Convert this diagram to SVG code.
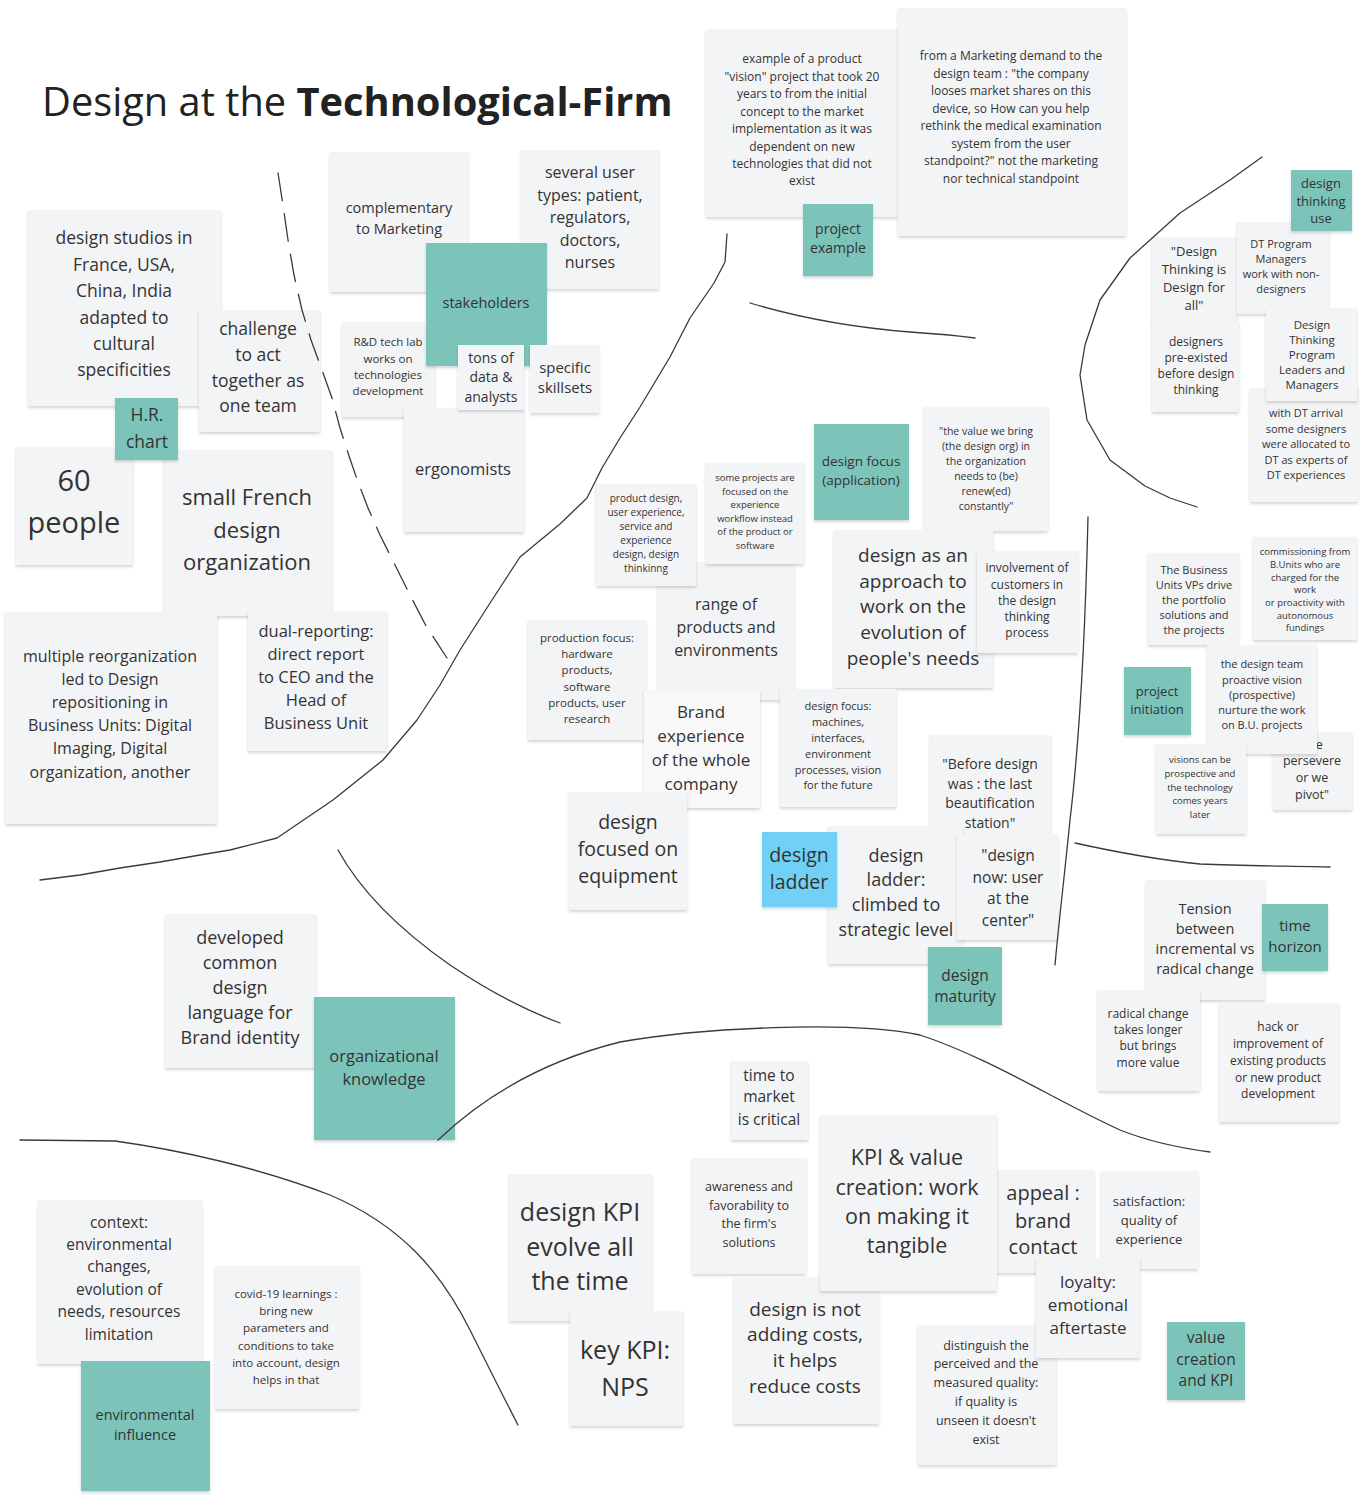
<svg xmlns="http://www.w3.org/2000/svg" width="1367" height="1495" viewBox="0 0 1367 1495">
<defs>
<filter id="sh" x="-10%" y="-10%" width="120%" height="125%">
<feDropShadow dx="0" dy="2" stdDeviation="1.6" flood-color="#000" flood-opacity="0.16"/>
</filter>
<style>
.n{fill:#f3f4f6;filter:url(#sh)}
.w{fill:#f8f8f9;filter:url(#sh)}
.t{fill:#7cc4ba;filter:url(#sh)}
.b{fill:#6fd0f5;filter:url(#sh)}
text{font-family:"Open Sans","Noto Sans","Liberation Sans",sans-serif;fill:#333;text-anchor:middle}
.ttl{text-anchor:start;fill:#222}
.ln{fill:none;stroke:#3a3a3a;stroke-width:1.3;stroke-linecap:round;stroke-linejoin:round}
.dash{stroke-dasharray:28 13}
</style>
</defs>
<rect width="1367" height="1495" fill="#ffffff"/>
<text class="ttl" x="42" y="116" font-size="39.8">Design at the <tspan font-weight="700">Technological-Firm</tspan></text>

<g id="n-vision"><rect class="n" x="706" y="29" width="192" height="188"/><text font-size="12"><tspan x="802" y="63">example of a product</tspan><tspan x="802" y="80.5">"vision" project that took 20</tspan><tspan x="802" y="98">years to from the initial</tspan><tspan x="802" y="115.5">concept to the market</tspan><tspan x="802" y="133">implementation as it was</tspan><tspan x="802" y="150.5">dependent on new</tspan><tspan x="802" y="168">technologies that did not</tspan><tspan x="802" y="185">exist</tspan></text></g>
<g id="n-project-example"><rect class="t" x="803" y="204" width="70" height="72"/><text font-size="14"><tspan x="838" y="234">project</tspan><tspan x="838" y="253">example</tspan></text></g>
<g id="n-marketing"><rect class="n" x="898" y="8" width="228" height="228"/><text font-size="12"><tspan x="1011" y="60">from a Marketing demand to the</tspan><tspan x="1011" y="77.5">design team : "the company</tspan><tspan x="1011" y="95">looses market shares on this</tspan><tspan x="1011" y="112.5">device, so How can you help</tspan><tspan x="1011" y="130">rethink the medical examination</tspan><tspan x="1011" y="147.5">system from the user</tspan><tspan x="1011" y="165">standpoint?" not the marketing</tspan><tspan x="1011" y="182.5">nor technical standpoint</tspan></text></g>

<g id="n-studios"><rect class="n" x="28" y="210" width="193" height="196"/><text font-size="17.5"><tspan x="124" y="244">design studios in</tspan><tspan x="124" y="270.5">France, USA,</tspan><tspan x="124" y="297">China, India</tspan><tspan x="124" y="323.5">adapted to</tspan><tspan x="124" y="350">cultural</tspan><tspan x="124" y="376">specificities</tspan></text></g>
<g id="n-challenge"><rect class="n" x="199" y="310" width="121" height="122"/><text font-size="17.5"><tspan x="258" y="335">challenge</tspan><tspan x="258" y="361">to act</tspan><tspan x="258" y="387">together as</tspan><tspan x="258" y="412">one team</tspan></text></g>
<g id="n-60"><rect class="n" x="16" y="447" width="117" height="118"/><text font-size="29"><tspan x="74" y="491">60</tspan><tspan x="74" y="533">people</tspan></text></g>
<g id="n-french"><rect class="n" x="164" y="450" width="168" height="166"/><text font-size="22"><tspan x="247" y="505">small French</tspan><tspan x="247" y="538">design</tspan><tspan x="247" y="570">organization</tspan></text></g>
<g id="n-hr"><rect class="t" x="115" y="398" width="63" height="62"/><text font-size="17.5"><tspan x="147" y="421">H.R.</tspan><tspan x="147" y="448">chart</tspan></text></g>
<g id="n-reorg"><rect class="n" x="5" y="612" width="212" height="212"/><text font-size="16"><tspan x="110" y="662">multiple reorganization</tspan><tspan x="110" y="685">led to Design</tspan><tspan x="110" y="708">repositioning in</tspan><tspan x="110" y="731">Business Units: Digital</tspan><tspan x="110" y="754">Imaging, Digital</tspan><tspan x="110" y="778">organization, another</tspan></text></g>
<g id="n-dual"><rect class="n" x="248" y="611" width="139" height="140"/><text font-size="16.5"><tspan x="316" y="637">dual-reporting:</tspan><tspan x="316" y="660">direct report</tspan><tspan x="316" y="683">to CEO and the</tspan><tspan x="316" y="706">Head of</tspan><tspan x="316" y="729">Business Unit</tspan></text></g>

<g id="n-complementary"><rect class="n" x="330" y="152" width="138" height="140"/><text font-size="14.5"><tspan x="399" y="213">complementary</tspan><tspan x="399" y="234">to Marketing</tspan></text></g>
<g id="n-usertypes"><rect class="n" x="521" y="150" width="138" height="139"/><text font-size="16"><tspan x="590" y="178">several user</tspan><tspan x="590" y="201">types: patient,</tspan><tspan x="590" y="223">regulators,</tspan><tspan x="590" y="246">doctors,</tspan><tspan x="590" y="268">nurses</tspan></text></g>
<g id="n-rd"><rect class="n" x="342" y="322" width="93" height="95"/><text font-size="11.5"><tspan x="388" y="346">R&amp;D tech lab</tspan><tspan x="388" y="363">works on</tspan><tspan x="388" y="379">technologies</tspan><tspan x="388" y="395">development</tspan></text></g>
<g id="n-stakeholders"><rect class="t" x="426" y="243" width="121" height="123"/><text font-size="14.5"><tspan x="486" y="308">stakeholders</tspan></text></g>
<g id="n-ergonomists"><rect class="n" x="404" y="408" width="120" height="124"/><text font-size="16.5"><tspan x="463" y="475">ergonomists</tspan></text></g>
<g id="n-tons"><rect class="n" x="458" y="345" width="66" height="65"/><text font-size="14"><tspan x="491" y="363">tons of</tspan><tspan x="491" y="382">data &amp;</tspan><tspan x="491" y="402">analysts</tspan></text></g>
<g id="n-skillsets"><rect class="n" x="530" y="345" width="69" height="68"/><text font-size="15"><tspan x="565" y="373">specific</tspan><tspan x="565" y="393">skillsets</tspan></text></g>

<g id="n-range"><rect class="n" x="658" y="562" width="136" height="138"/><text font-size="16"><tspan x="726" y="610">range of</tspan><tspan x="726" y="633">products and</tspan><tspan x="726" y="656">environments</tspan></text></g>
<g id="n-productdesign"><rect class="n" x="596" y="484" width="100" height="102"/><text font-size="10"><tspan x="646" y="502">product design,</tspan><tspan x="646" y="516">user experience,</tspan><tspan x="646" y="530">service and</tspan><tspan x="646" y="544">experience</tspan><tspan x="646" y="558">design, design</tspan><tspan x="646" y="572">thinkinng</tspan></text></g>
<g id="n-someprojects"><rect class="n" x="706" y="463" width="98" height="101"/><text font-size="9.5"><tspan x="755" y="481">some projects are</tspan><tspan x="755" y="495">focused on the</tspan><tspan x="755" y="508">experience</tspan><tspan x="755" y="522">workflow instead</tspan><tspan x="755" y="535">of the product or</tspan><tspan x="755" y="549">software</tspan></text></g>
<g id="n-designfocusapp"><rect class="t" x="814" y="424" width="95" height="96"/><text font-size="13.5"><tspan x="861" y="466">design focus</tspan><tspan x="861" y="485">(application)</tspan></text></g>
<g id="n-valuebring"><rect class="n" x="924" y="407" width="124" height="124"/><text font-size="10.5"><tspan x="986" y="435">"the value we bring</tspan><tspan x="986" y="450">(the design org) in</tspan><tspan x="986" y="465">the organization</tspan><tspan x="986" y="480">needs to (be)</tspan><tspan x="986" y="495">renew(ed)</tspan><tspan x="986" y="510">constantly"</tspan></text></g>
<g id="n-approach"><rect class="n" x="834" y="530" width="159" height="158"/><text font-size="19"><tspan x="913" y="562">design as an</tspan><tspan x="913" y="588">approach to</tspan><tspan x="913" y="613">work on the</tspan><tspan x="913" y="639">evolution of</tspan><tspan x="913" y="665">people's needs</tspan></text></g>
<g id="n-involvement"><rect class="n" x="977" y="551" width="101" height="102"/><text font-size="12"><tspan x="1027" y="572">involvement of</tspan><tspan x="1027" y="589">customers in</tspan><tspan x="1027" y="605">the design</tspan><tspan x="1027" y="621">thinking</tspan><tspan x="1027" y="637">process</tspan></text></g>
<g id="n-production"><rect class="n" x="528" y="620" width="118" height="120"/><text font-size="11.5"><tspan x="587" y="642">production focus:</tspan><tspan x="587" y="658">hardware</tspan><tspan x="587" y="674">products,</tspan><tspan x="587" y="691">software</tspan><tspan x="587" y="707">products, user</tspan><tspan x="587" y="723">research</tspan></text></g>
<g id="n-brand"><rect class="w" x="644" y="690" width="116" height="118"/><text font-size="17"><tspan x="701" y="718">Brand</tspan><tspan x="701" y="742">experience</tspan><tspan x="701" y="766">of the whole</tspan><tspan x="701" y="790">company</tspan></text></g>
<g id="n-machines"><rect class="n" x="780" y="689" width="116" height="118"/><text font-size="11"><tspan x="838" y="710">design focus:</tspan><tspan x="838" y="726">machines,</tspan><tspan x="838" y="742">interfaces,</tspan><tspan x="838" y="758">environment</tspan><tspan x="838" y="774">processes, vision</tspan><tspan x="838" y="789">for the future</tspan></text></g>
<g id="n-equipment"><rect class="n" x="569" y="792" width="118" height="118"/><text font-size="19.5"><tspan x="628" y="829">design</tspan><tspan x="628" y="856">focused on</tspan><tspan x="628" y="883">equipment</tspan></text></g>
<g id="n-before"><rect class="n" x="930" y="735" width="121" height="120"/><text font-size="14"><tspan x="990" y="769">"Before design</tspan><tspan x="990" y="789">was : the last</tspan><tspan x="990" y="808">beautification</tspan><tspan x="990" y="828">station"</tspan></text></g>
<g id="n-ladder"><rect class="n" x="828" y="826" width="135" height="138"/><text font-size="18"><tspan x="896" y="862">design</tspan><tspan x="896" y="886">ladder:</tspan><tspan x="896" y="911">climbed to</tspan><tspan x="896" y="936">strategic level</tspan></text></g>
<g id="n-ladderblue"><rect class="b" x="762" y="832" width="75" height="75"/><text font-size="19.5"><tspan x="799" y="862">design</tspan><tspan x="799" y="889">ladder</tspan></text></g>
<g id="n-designnow"><rect class="n" x="957" y="834" width="101" height="106"/><text font-size="15.5"><tspan x="1008" y="861">"design</tspan><tspan x="1008" y="883">now: user</tspan><tspan x="1008" y="904">at the</tspan><tspan x="1008" y="926">center"</tspan></text></g>
<g id="n-maturity"><rect class="t" x="928" y="947" width="74" height="78"/><text font-size="15.5"><tspan x="965" y="981">design</tspan><tspan x="965" y="1002">maturity</tspan></text></g>

<g id="n-dtforall"><rect class="n" x="1152" y="237" width="85" height="87"/><text font-size="13"><tspan x="1194" y="256">"Design</tspan><tspan x="1194" y="274">Thinking is</tspan><tspan x="1194" y="292">Design for</tspan><tspan x="1194" y="310">all"</tspan></text></g>
<g id="n-dtmanagers"><rect class="n" x="1237" y="222" width="92" height="92"/><text font-size="11"><tspan x="1281" y="248">DT Program</tspan><tspan x="1281" y="263">Managers</tspan><tspan x="1281" y="278">work with non-</tspan><tspan x="1281" y="293">designers</tspan></text></g>
<g id="n-dtuse"><rect class="t" x="1291" y="170" width="61" height="61"/><text font-size="13"><tspan x="1321" y="188">design</tspan><tspan x="1321" y="206">thinking</tspan><tspan x="1321" y="223">use</tspan></text></g>
<g id="n-preexisted"><rect class="n" x="1152" y="322" width="87" height="90"/><text font-size="12"><tspan x="1196" y="346">designers</tspan><tspan x="1196" y="362">pre-existed</tspan><tspan x="1196" y="378">before design</tspan><tspan x="1196" y="394">thinking</tspan></text></g>
<g id="n-dtarrival"><rect class="n" x="1250" y="388" width="108" height="114"/><text font-size="11"><tspan x="1306" y="417">with DT arrival</tspan><tspan x="1306" y="433">some designers</tspan><tspan x="1306" y="448">were allocated to</tspan><tspan x="1306" y="464">DT as experts of</tspan><tspan x="1306" y="479">DT experiences</tspan></text></g>
<g id="n-dtleaders"><rect class="n" x="1266" y="308" width="91" height="93"/><text font-size="11.5"><tspan x="1312" y="329">Design</tspan><tspan x="1312" y="344">Thinking</tspan><tspan x="1312" y="359">Program</tspan><tspan x="1312" y="374">Leaders and</tspan><tspan x="1312" y="389">Managers</tspan></text></g>

<g id="n-buvps"><rect class="n" x="1148" y="553" width="91" height="92"/><text font-size="11"><tspan x="1194" y="574">The Business</tspan><tspan x="1194" y="589">Units VPs drive</tspan><tspan x="1194" y="604">the portfolio</tspan><tspan x="1194" y="619">solutions and</tspan><tspan x="1194" y="634">the projects</tspan></text></g>
<g id="n-commissioning"><rect class="n" x="1253" y="537" width="104" height="103"/><text font-size="9.5"><tspan x="1305" y="555">commissioning from</tspan><tspan x="1305" y="568">B.Units who are</tspan><tspan x="1305" y="581">charged for the</tspan><tspan x="1305" y="593">work</tspan><tspan x="1305" y="606">or proactivity with</tspan><tspan x="1305" y="619">autonomous</tspan><tspan x="1305" y="631">fundings</tspan></text></g>
<g id="n-initiation"><rect class="t" x="1124" y="667" width="67" height="68"/><text font-size="13"><tspan x="1157" y="696">project</tspan><tspan x="1157" y="714">initiation</tspan></text></g>
<g id="n-persevere"><rect class="n" x="1273" y="732" width="79" height="78"/><text font-size="12.5"><tspan x="1312" y="749">"we</tspan><tspan x="1312" y="765">persevere</tspan><tspan x="1312" y="782">or we</tspan><tspan x="1312" y="799">pivot"</tspan></text></g>
<g id="n-designteam"><rect class="n" x="1207" y="645" width="110" height="109"/><text font-size="11"><tspan x="1262" y="668">the design team</tspan><tspan x="1262" y="684">proactive vision</tspan><tspan x="1262" y="699">(prospective)</tspan><tspan x="1262" y="714">nurture the work</tspan><tspan x="1262" y="729">on B.U. projects</tspan></text></g>
<g id="n-visions"><rect class="n" x="1156" y="744" width="90" height="90"/><text font-size="9.5"><tspan x="1200" y="763">visions can be</tspan><tspan x="1200" y="777">prospective and</tspan><tspan x="1200" y="791">the technology</tspan><tspan x="1200" y="804">comes years</tspan><tspan x="1200" y="818">later</tspan></text></g>

<g id="n-tension"><rect class="n" x="1146" y="880" width="119" height="120"/><text font-size="14.5"><tspan x="1205" y="914">Tension</tspan><tspan x="1205" y="934">between</tspan><tspan x="1205" y="954">incremental vs</tspan><tspan x="1205" y="974">radical change</tspan></text></g>
<g id="n-timehorizon"><rect class="t" x="1262" y="904" width="66" height="67"/><text font-size="15"><tspan x="1295" y="931">time</tspan><tspan x="1295" y="952">horizon</tspan></text></g>
<g id="n-radical"><rect class="n" x="1098" y="990" width="102" height="101"/><text font-size="12"><tspan x="1148" y="1018">radical change</tspan><tspan x="1148" y="1034">takes longer</tspan><tspan x="1148" y="1050">but brings</tspan><tspan x="1148" y="1067">more value</tspan></text></g>
<g id="n-hack"><rect class="n" x="1219" y="1003" width="120" height="119"/><text font-size="12"><tspan x="1278" y="1031">hack or</tspan><tspan x="1278" y="1048">improvement of</tspan><tspan x="1278" y="1065">existing products</tspan><tspan x="1278" y="1082">or new product</tspan><tspan x="1278" y="1098">development</tspan></text></g>

<g id="n-language"><rect class="n" x="165" y="914" width="151" height="154"/><text font-size="18"><tspan x="240" y="944">developed</tspan><tspan x="240" y="969">common</tspan><tspan x="240" y="994">design</tspan><tspan x="240" y="1019">language for</tspan><tspan x="240" y="1044">Brand identity</tspan></text></g>
<g id="n-orgknowledge"><rect class="t" x="314" y="997" width="141" height="143"/><text font-size="16.5"><tspan x="384" y="1062">organizational</tspan><tspan x="384" y="1085">knowledge</tspan></text></g>

<g id="n-ttm"><rect class="n" x="731" y="1061" width="77" height="79"/><text font-size="15.5"><tspan x="769" y="1081">time to</tspan><tspan x="769" y="1102">market</tspan><tspan x="769" y="1125">is critical</tspan></text></g>
<g id="n-awareness"><rect class="n" x="692" y="1158" width="114" height="116"/><text font-size="12.5"><tspan x="749" y="1191">awareness and</tspan><tspan x="749" y="1210">favorability to</tspan><tspan x="749" y="1228">the firm's</tspan><tspan x="749" y="1247">solutions</tspan></text></g>
<g id="n-costs"><rect class="n" x="734" y="1277" width="145" height="147"/><text font-size="19"><tspan x="805" y="1316">design is not</tspan><tspan x="805" y="1341">adding costs,</tspan><tspan x="805" y="1367">it helps</tspan><tspan x="805" y="1393">reduce costs</tspan></text></g>
<g id="n-appeal"><rect class="n" x="990" y="1170" width="104" height="103"/><text font-size="20"><tspan x="1043" y="1200">appeal :</tspan><tspan x="1043" y="1228">brand</tspan><tspan x="1043" y="1254">contact</tspan></text></g>
<g id="n-kpivalue"><rect class="n" x="820" y="1115" width="177" height="176"/><text font-size="21.5"><tspan x="907" y="1165">KPI &amp; value</tspan><tspan x="907" y="1195">creation: work</tspan><tspan x="907" y="1224">on making it</tspan><tspan x="907" y="1253">tangible</tspan></text></g>
<g id="n-satisfaction"><rect class="n" x="1101" y="1171" width="97" height="98"/><text font-size="13"><tspan x="1149" y="1206">satisfaction:</tspan><tspan x="1149" y="1225">quality of</tspan><tspan x="1149" y="1244">experience</tspan></text></g>
<g id="n-distinguish"><rect class="n" x="918" y="1325" width="138" height="140"/><text font-size="12.5"><tspan x="986" y="1350">distinguish the</tspan><tspan x="986" y="1368">perceived and the</tspan><tspan x="986" y="1387">measured quality:</tspan><tspan x="986" y="1406">if quality is</tspan><tspan x="986" y="1425">unseen it doesn't</tspan><tspan x="986" y="1444">exist</tspan></text></g>
<g id="n-loyalty"><rect class="n" x="1036" y="1258" width="104" height="100"/><text font-size="17"><tspan x="1088" y="1288">loyalty:</tspan><tspan x="1088" y="1311">emotional</tspan><tspan x="1088" y="1334">aftertaste</tspan></text></g>
<g id="n-valuekpi"><rect class="t" x="1167" y="1322" width="78" height="78"/><text font-size="15.5"><tspan x="1206" y="1343">value</tspan><tspan x="1206" y="1365">creation</tspan><tspan x="1206" y="1386">and KPI</tspan></text></g>
<g id="n-kpievolve"><rect class="n" x="509" y="1174" width="143" height="147"/><text font-size="25"><tspan x="580" y="1221">design KPI</tspan><tspan x="580" y="1256">evolve all</tspan><tspan x="580" y="1290">the time</tspan></text></g>
<g id="n-nps"><rect class="n" x="570" y="1311" width="113" height="115"/><text font-size="25"><tspan x="625" y="1359">key KPI:</tspan><tspan x="625" y="1396">NPS</tspan></text></g>

<g id="n-context"><rect class="n" x="38" y="1200" width="164" height="164"/><text font-size="15.5"><tspan x="119" y="1228">context:</tspan><tspan x="119" y="1250">environmental</tspan><tspan x="119" y="1272">changes,</tspan><tspan x="119" y="1295">evolution of</tspan><tspan x="119" y="1317">needs, resources</tspan><tspan x="119" y="1340">limitation</tspan></text></g>
<g id="n-envinfluence"><rect class="t" x="81" y="1361" width="129" height="130"/><text font-size="14.5"><tspan x="145" y="1420">environmental</tspan><tspan x="145" y="1440">influence</tspan></text></g>
<g id="n-covid"><rect class="n" x="215" y="1266" width="144" height="143"/><text font-size="11.5"><tspan x="286" y="1298">covid-19 learnings :</tspan><tspan x="286" y="1315">bring new</tspan><tspan x="286" y="1332">parameters and</tspan><tspan x="286" y="1350">conditions to take</tspan><tspan x="286" y="1367">into account, design</tspan><tspan x="286" y="1384">helps in that</tspan></text></g>

<g id="connectors">
<path class="ln dash" d="M278,173 L283,205 L288,240 L294,275 L302,310 L311,340 L322,370 L332,398 L340,428 L349,456 L358,482 L368,508 L380,535 L395,565 L410,595 L426,626 L447,658"/>
<path class="ln" d="M727,234 L725,262 L714,283 L690,318 L670,357 L640,407 L620,438 L602,468 L587,498 L560,524 L520,557 L492,600 L460,650 L440,685 L417,720 L383,760 L333,800 L277,838 L230,850 L200,855 L160,862 L120,868 L80,875 L40,880"/>
<path class="ln" d="M338,850 C360,890 400,930 450,965 C490,992 530,1012 560,1023"/>
<path class="ln" d="M438,1140 C480,1100 540,1062 620,1042 C700,1028 850,1020 920,1035 C990,1058 1060,1103 1120,1130 C1150,1142 1180,1148 1210,1152"/>
<path class="ln" d="M20,1140 L115,1141 C180,1150 260,1168 330,1195 C400,1225 440,1270 470,1330 C490,1370 505,1400 518,1425"/>
<path class="ln" d="M750,303 C800,318 860,328 910,332 C940,334 960,336 975,338"/>
<path class="ln" d="M1262,157 L1230,180 L1180,213 L1130,258 L1100,300 L1085,345 L1080,375 L1087,420 L1110,460 L1145,486 L1170,498 L1197,507"/>
<path class="ln" d="M1088,517 C1086,600 1082,720 1070,820 C1064,880 1058,930 1055,965"/>
<path class="ln" d="M1075,843 C1120,853 1160,860 1200,864 C1250,866 1300,866 1330,867"/>
</g>
</svg>
